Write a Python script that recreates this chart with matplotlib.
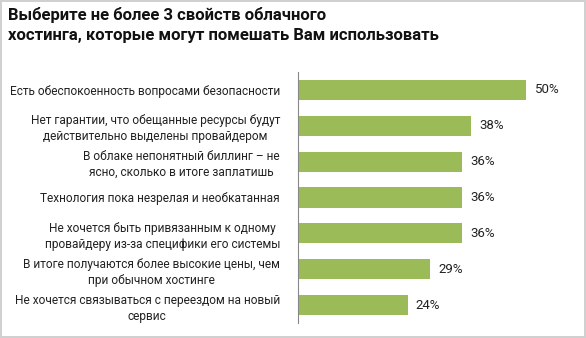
import matplotlib
matplotlib.use('Agg')
import matplotlib.pyplot as plt

plt.rcParams['font.family'] = ['Roboto', 'DejaVu Sans']

TITLE = 'Выберите не более 3 свойств облачного\nхостинга, которые могут помешать Вам использовать'

labels = [
    'Есть обеспокоенность вопросами безопасности',
    'Нет гарантии, что обещанные ресурсы будут\nдействительно выделены провайдером',
    'В облаке непонятный биллинг – не\nясно, сколько в итоге заплатишь',
    'Технология пока незрелая и необкатанная',
    'Не хочется быть привязанным к одному\nпровайдеру из-за специфики его системы',
    'В итоге получаются более высокие цены, чем\nпри обычном хостинге',
    'Не хочется связываться с переездом на новый\nсервис',
]
values = [50, 38, 36, 36, 36, 29, 24]

fig = plt.figure(figsize=(5.86, 3.38), dpi=100)
fig.patch.set_edgecolor('#d0d0d0')
fig.patch.set_linewidth(1.5)

ax = fig.add_axes([0.5085, 0.0444, 0.4675, 0.7426])
pos = list(range(len(values)))
ax.barh(pos, values, height=0.56, color='#9bbb59')
ax.set_ylim(len(values) - 0.5, -0.5)
ax.set_xlim(0, 60)

for y, v in zip(pos, values):
    ax.text(v + 1.8, y, f'{v}%', va='center', ha='left', fontsize=9.5, color='#222222')

ax.set_yticks(pos)
ax.set_yticklabels(labels, fontsize=8.6, color='#222222', multialignment='center',
                   linespacing=1.3)
ax.tick_params(axis='y', length=0, pad=13)
ax.set_xticks([])
for side in ['top', 'right', 'bottom']:
    ax.spines[side].set_visible(False)
ax.spines['left'].set_color('#888888')

fig.text(0.014, 0.98, TITLE, fontsize=12, fontweight='bold', va='top', ha='left',
         color='#111111', linespacing=1.45)

fig.savefig('out.png', dpi=100)
